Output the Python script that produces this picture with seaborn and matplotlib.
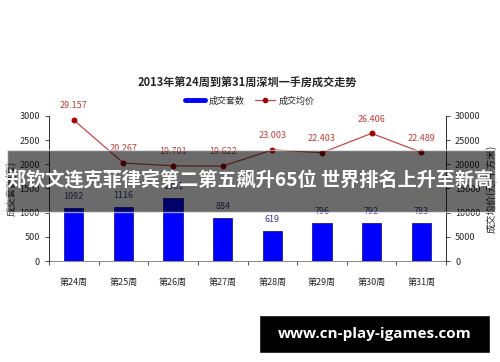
import numpy as np
import pandas as pd
import matplotlib
matplotlib.use("Agg")
import matplotlib.pyplot as plt
import seaborn as sns
from matplotlib.lines import Line2D
from matplotlib.patches import Rectangle

weeks = ["第24周", "第25周", "第26周", "第27周", "第28周", "第29周", "第30周", "第31周"]
units = [1092, 1116, 1301, 884, 619, 796, 792, 783]
prices = [29157, 20267, 19701, 19622, 23003, 22403, 26406, 22489]
price_labels = ["29.157", "20.267", "19.701", "19.622", "23.003", "22.403", "26.406", "22.489"]

title = "2013年第24周到第31周深圳一手房成交走势"
banner = "郑钦文连克菲律宾第二第五飙升65位 世界排名上升至新高"
site = "www.cn-play-igames.com"

sns.set_style("white")
plt.rcParams['font.family'] = ['Noto Sans CJK SC', 'DejaVu Sans']

df = pd.DataFrame({"week": weeks, "units": units, "price": prices})

fig = plt.figure(figsize=(5, 3.62), dpi=100)
ax = fig.add_axes([0.098, 0.279, 0.794, 0.4006])

# bars: units sold
sns.barplot(data=df, x="week", y="units", color="#0000ff", saturation=1,
            width=0.39, edgecolor="#1a1a9a", linewidth=0.6, ax=ax)
ax.set_ylim(0, 3000)
ax.set_xlim(-0.5, 7.5)
ax.set_yticks(np.arange(0, 3001, 500))
ax.set_xlabel("")
ax.set_ylabel("成交套数(套)", fontsize=7, labelpad=2)
for i, v in enumerate(units):
    ax.annotate(str(v), (i, v), xytext=(0, 5), textcoords="offset points",
                ha="center", va="bottom", fontsize=6.5, color="#3a3a8a")

# line: average price
ax2 = ax.twinx()
sns.lineplot(data=df, x="week", y="price", color="#c84848", lw=0.9,
             marker="o", markersize=3.5, markerfacecolor="#a00000",
             markeredgecolor="#a00000", ax=ax2)
ax2.set_ylim(0, 30000)
ax2.set_yticks(np.arange(0, 30001, 5000))
ax2.set_ylabel("成交均价(元/平方米)", fontsize=7, rotation=90, labelpad=4)
ax2.set_xlim(-0.5, 7.5)
for i, (v, lab) in enumerate(zip(prices, price_labels)):
    ax2.annotate(lab, (i, v), xytext=(0, 7), textcoords="offset points",
                 ha="center", va="bottom", fontsize=6.5, color="#c03a3a")

ax.set_xticks(np.arange(8))
ax.set_xticklabels(weeks, fontsize=6.5)
ax.set_xticks(np.arange(-0.5, 8, 1), minor=True)
ax.tick_params(axis="x", which="major", length=0, pad=12)
ax.tick_params(axis="x", which="minor", length=3, direction="out", color="#333333", width=0.6, bottom=True)
ax.tick_params(axis="y", length=3, direction="out", labelsize=6.5, width=0.6, left=True)
ax2.tick_params(axis="y", length=3, direction="out", labelsize=6.5, width=0.6, right=True)

for a in (ax, ax2):
    a.spines["top"].set_visible(False)
    for s in ("left", "right", "bottom"):
        a.spines[s].set_linewidth(0.7)
        a.spines[s].set_color("#333333")
ax.spines["bottom"].set_color("#888888")
ax2.spines["bottom"].set_visible(False)

fig.text(0.494, 0.771, title, ha="center", va="center", fontsize=8, fontweight="bold")

handles = [Line2D([], [], color="#0000ff", lw=3.5),
           Line2D([], [], color="#c84848", lw=0.9, marker="o", markersize=3,
                  markerfacecolor="#a00000", markeredgecolor="#a00000")]
fig.legend(handles, ["成交套数", "成交均价"], loc="center", bbox_to_anchor=(0.5, 0.721),
           ncol=2, frameon=False, fontsize=6.5, handlelength=2.2, columnspacing=1.2,
           handletextpad=0.4)

# overlay banners
fig.patches.append(Rectangle((0.014, 0.414), 0.976, 0.171, transform=fig.transFigure,
                             facecolor="black", alpha=0.58, zorder=10))
fig.text(0.5, 0.5, banner, ha="center", va="center", fontsize=13.8, fontweight="bold",
         color="white", zorder=11)

fig.patches.append(Rectangle((0.518, 0.025), 0.462, 0.105, transform=fig.transFigure,
                             facecolor="black", zorder=10))
fig.text(0.749, 0.078, site, ha="center", va="center", fontsize=11, fontweight="bold",
         color="white", family=["Open Sans", "DejaVu Sans"], zorder=11)

fig.savefig("out.png", dpi=100)
